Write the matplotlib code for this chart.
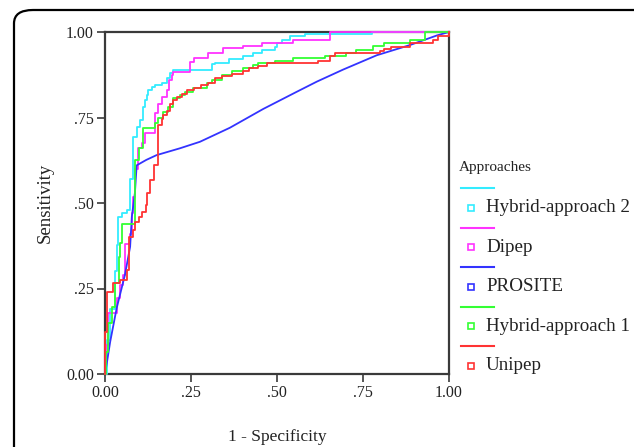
import matplotlib
matplotlib.use("Agg")
import matplotlib.pyplot as plt
from matplotlib.lines import Line2D
from matplotlib.patches import FancyBboxPatch

plt.rcParams['font.family'] = ['Liberation Serif', 'DejaVu Serif']

# ---- data ----
series_names = ["Hybrid-approach 2", "Dipep", "PROSITE", "Hybrid-approach 1", "Unipep"]
series_colors = ["#33ECFF", "#FF33FF", "#3333FF", "#33FF33", "#FF3333"]

hyb2_fpr = [0, 0.005, 0.015, 0.029, 0.034, 0.039, 0.049, 0.063, 0.073, 0.080, 0.092, 0.102,
            0.111, 0.116, 0.121, 0.126, 0.136, 0.145, 0.165, 0.179, 0.189, 0.199, 0.31, 0.32,
            0.36, 0.40, 0.43, 0.455, 0.494, 0.50, 0.515, 0.538, 0.581, 0.776, 1.0]
hyb2_tpr = [0, 0.10, 0.19, 0.30, 0.377, 0.46, 0.47, 0.48, 0.57, 0.694, 0.723, 0.743,
            0.78, 0.80, 0.816, 0.83, 0.84, 0.845, 0.85, 0.865, 0.879, 0.89, 0.905, 0.91,
            0.92, 0.93, 0.94, 0.948, 0.955, 0.968, 0.978, 0.987, 0.994, 1.0, 1.0]

dipep_fpr = [0, 0.003, 0.01, 0.034, 0.045, 0.053, 0.058, 0.073, 0.078, 0.082, 0.088, 0.097,
             0.107, 0.116, 0.145, 0.155, 0.165, 0.179, 0.186, 0.194, 0.199, 0.247, 0.26, 0.30,
             0.343, 0.40, 0.456, 0.547, 0.653, 1.0]
dipep_tpr = [0, 0.085, 0.177, 0.222, 0.26, 0.29, 0.38, 0.41, 0.47, 0.518, 0.60, 0.66,
             0.674, 0.705, 0.762, 0.79, 0.81, 0.83, 0.86, 0.874, 0.884, 0.913, 0.924, 0.939,
             0.953, 0.958, 0.968, 0.978, 1.0, 1.0]

prosite_fpr = [0, 0.003, 0.015, 0.034, 0.058, 0.073, 0.078, 0.087, 0.092, 0.12, 0.15, 0.218,
               0.276, 0.363, 0.46, 0.557, 0.616, 0.692, 0.79, 0.887, 0.965, 1.0]
prosite_tpr = [0, 0.017, 0.094, 0.193, 0.29, 0.372, 0.46, 0.53, 0.61, 0.626, 0.64, 0.66,
               0.679, 0.72, 0.775, 0.825, 0.855, 0.89, 0.932, 0.962, 0.99, 1.0]

hyb1_fpr = [0, 0.003, 0.01, 0.02, 0.029, 0.04, 0.045, 0.049, 0.088, 0.098, 0.111, 0.145,
            0.155, 0.17, 0.184, 0.198, 0.218, 0.233, 0.256, 0.296, 0.31, 0.34, 0.369, 0.40,
            0.43, 0.445, 0.494, 0.547, 0.64, 0.70, 0.73, 0.78, 0.81, 0.887, 0.93, 1.0]
hyb1_tpr = [0, 0.065, 0.149, 0.197, 0.266, 0.343, 0.383, 0.44, 0.626, 0.66, 0.718, 0.735,
            0.748, 0.765, 0.78, 0.807, 0.816, 0.825, 0.836, 0.85, 0.86, 0.875, 0.886, 0.895,
            0.903, 0.909, 0.916, 0.924, 0.93, 0.94, 0.948, 0.958, 0.968, 0.978, 1.0, 1.0]

unipep_fpr = [0, 0, 0.005, 0.024, 0.044, 0.063, 0.071, 0.082, 0.088, 0.10, 0.107, 0.118,
              0.122, 0.13, 0.143, 0.155, 0.165, 0.17, 0.18, 0.189, 0.199, 0.208, 0.225,
              0.237, 0.26, 0.28, 0.30, 0.32, 0.34, 0.37, 0.40, 0.42, 0.445, 0.47, 0.62,
              0.654, 0.67, 0.80, 0.81, 0.83, 0.887, 0.953, 0.968, 1.0]
unipep_tpr = [0, 0.124, 0.24, 0.266, 0.275, 0.304, 0.40, 0.42, 0.445, 0.46, 0.475, 0.494,
              0.53, 0.567, 0.61, 0.728, 0.745, 0.757, 0.77, 0.79, 0.80, 0.81, 0.82,
              0.83, 0.836, 0.845, 0.85, 0.865, 0.87, 0.878, 0.887, 0.895, 0.9, 0.909, 0.915,
              0.93, 0.939, 0.944, 0.95, 0.955, 0.968, 0.978, 0.988, 1.0]

tick_vals = [0, 0.25, 0.5, 0.75, 1.0]
tick_labels = ["0.00", ".25", ".50", ".75", "1.00"]

# ---- figure ----
W, H = 634, 447
fig = plt.figure(figsize=(W / 100, H / 100), dpi=100)

# rounded frame around the chart
frame = FancyBboxPatch((14 / W, -0.2), 1.2, (H - 10) / H + 0.2,
                       boxstyle="round,pad=0,rounding_size=0.03",
                       transform=fig.transFigure, fill=False,
                       edgecolor="black", linewidth=1.6, clip_on=False)
fig.patches.append(frame)

ax = fig.add_axes([105 / W, (H - 374) / H, (449 - 105) / W, (374 - 32) / H])

step_series = [
    (hyb2_fpr, hyb2_tpr, True),
    (dipep_fpr, dipep_tpr, True),
    (prosite_fpr, prosite_tpr, False),
    (hyb1_fpr, hyb1_tpr, True),
    (unipep_fpr, unipep_tpr, True),
]
for (xs, ys, stepped), c in zip(step_series, series_colors):
    ax.plot(xs, ys, color=c, lw=1.3, drawstyle="steps-post" if stepped else "default",
            clip_on=False, zorder=3)

ax.set_xlim(0, 1)
ax.set_ylim(0, 1)
ax.set_xticks(tick_vals)
ax.set_xticklabels(tick_labels)
ax.set_yticks(tick_vals)
ax.set_yticklabels(tick_labels)
for s in ax.spines.values():
    s.set_color("#3a3a3a")
    s.set_linewidth(1.6)
ax.tick_params(direction="out", length=6, width=1.2, color="#3a3a3a",
               labelsize=11.5, pad=2, labelcolor="#222222")
ax.set_xlabel("1 - Specificity", fontsize=12.5, labelpad=20, color="#222222")
ax.set_ylabel("Sensitivity", fontsize=13.5, labelpad=9, color="#222222")

# ---- legend (drawn manually in the reference style) ----
def fx(px):
    return px / W

def fy(py):
    return 1 - py / H

fig.text(fx(459), fy(168), "Approaches", fontsize=11, va="center", ha="left",
         color="#222222")
row0 = 188
step = 39.6
for i, (name, c) in enumerate(zip(series_names, series_colors)):
    ly = row0 + i * step
    fig.add_artist(Line2D([fx(461), fx(494)], [fy(ly), fy(ly)], color=c, lw=1.5,
                          transform=fig.transFigure))
    ty = ly + 19.5
    fig.add_artist(Line2D([fx(471)], [fy(ty)], marker="s", markersize=4.2,
                          markerfacecolor="white", markeredgecolor=c,
                          markeredgewidth=1.2, linestyle="none",
                          transform=fig.transFigure))
    fig.text(fx(486), fy(ty), name, fontsize=13.7, va="center", ha="left", color="#222222")

fig.savefig("out.png", dpi=100)
